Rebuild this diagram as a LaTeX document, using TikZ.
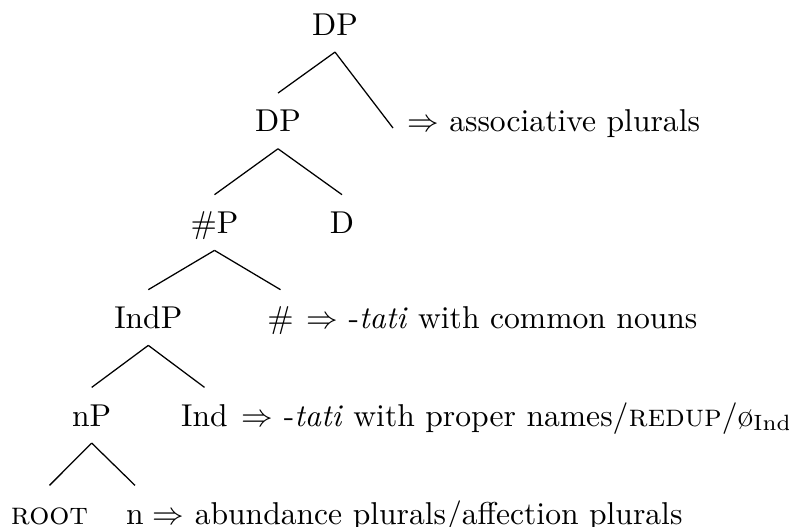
\documentclass[tikz,border=0pt]{standalone}
\begin{document}
% Coordinates are given in small units (x to the right, y downwards).
\begin{tikzpicture}[x=0.3165pt, y=-0.3165pt,
  cat/.style={anchor=base, inner xsep=0pt, inner ysep=5.2pt,
              text height=6.83pt, text depth=0pt},
  gloss/.style={anchor=base west, inner sep=0pt},
  branch/.style={line width=0.4pt}]
\useasboundingbox (0,0) rectangle (789,526);

% category labels
\node[cat] (dpA)  at (335,35)    {DP};
\node[cat] (dpB)  at (278,131.7) {DP};
\node[cat] (numP) at (214.5,233.3) {\#P};
\node[cat] (dH)   at (342,233.3) {D};
\node[cat] (indP) at (148.3,328.3) {IndP};
\node[cat] (numH) at (280.5,328.3) {\#};
\node[cat] (nP)   at (91.7,426)  {nP};
\node[cat] (indH) at (204.5,426) {Ind};
\node[cat] (root) at (49.5,524)  {\textsc{root}};
\node[cat] (nH)   at (135,524)   {n};
\coordinate (assocEnd) at (393,128);

% spell-out annotations
\node[gloss] (assoc)  at (406.5,131.7) {$\Rightarrow$ associative plurals};
\node[gloss] (numAnn) at (305.9,328.3) {$\Rightarrow$ -\textit{tati} with common nouns};
\node[gloss] (indAnn) at (241.2,426)
  {$\Rightarrow$ -\textit{tati} with proper names/\textsc{redup}/\o$_{\mathrm{Ind}}$};
\node[gloss] (nAnn)   at (152,524) {$\Rightarrow$ abundance plurals/affection plurals};

% branches
\draw[branch] (dpA.south)  -- (dpB.north);
\draw[branch] (dpA.south)  -- (assocEnd);
\draw[branch] (dpB.south)  -- (numP.north);
\draw[branch] (dpB.south)  -- (dH.north);
\draw[branch] (numP.south) -- (indP.north);
\draw[branch] (numP.south) -- (numH.north);
\draw[branch] (indP.south) -- (nP.north);
\draw[branch] (indP.south) -- (indH.north);
\draw[branch] (nP.south)   -- (root.north);
\draw[branch] (nP.south)   -- (nH.north);
\end{tikzpicture}
\end{document}
